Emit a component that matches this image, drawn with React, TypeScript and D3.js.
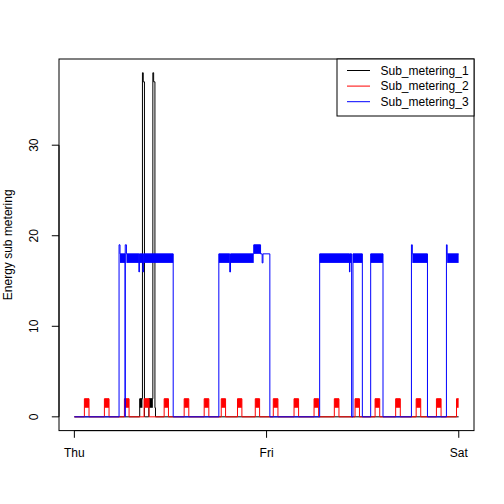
import React from 'react';
import * as d3 from 'd3';

// [start hour, end hour, low, high] -- low != high means the meter flickers between the two
type Seg = [number, number, number, number];

const dayLabels = ['Thu', 'Fri', 'Sat'];
const dayHours = [0, 24, 48];
const yTicks = [0, 10, 20, 30];
const seriesNames = ['Sub_metering_1', 'Sub_metering_2', 'Sub_metering_3'];
const seriesColors = ['black', 'red', 'blue'];
const lastHour = 47.983;

const sub1: Seg[] = [
  [0, 8.16, 0, 0],
  [8.16, 8.5, 1, 2],
  [8.5, 8.6, 38, 38],
  [8.6, 8.75, 37, 37],
  [8.75, 9.29, 0, 0],
  [9.29, 9.8, 1, 2],
  [9.8, 9.9, 38, 38],
  [9.9, 10.06, 37, 37],
  [10.06, 10.13, 1, 1],
  [10.13, lastHour, 0, 0],
];

// fridge-like cycles of Sub_metering_2 (on between 1 and 2)
const sub2On: [number, number][] = [
  [1.25, 1.83], [3.75, 4.33], [6.25, 6.83], [8.71, 9.33], [11.21, 11.75],
  [13.71, 14.29], [16.21, 16.79], [18.34, 18.88], [20.37, 20.92], [22.59, 23.13],
  [24.84, 25.42], [27.43, 28.0], [29.93, 30.5], [32.46, 33.04], [35.05, 35.6],
  [37.55, 38.13], [40.12, 40.7], [42.68, 43.25], [45.21, 45.79], [47.72, lastHour],
];

const sub3: Seg[] = [
  [0, 5.58, 0, 0],
  [5.58, 5.7, 19, 19],
  [5.7, 6.33, 17, 18],
  [6.33, 6.35, 0, 0],
  [6.35, 6.5, 19, 19],
  [6.5, 8.06, 17, 18],
  [8.06, 8.12, 16, 16],
  [8.12, 8.56, 17, 18],
  [8.56, 8.62, 16, 16],
  [8.62, 12.34, 17, 18],
  [12.34, 18.04, 0, 0],
  [18.04, 19.4, 17, 18],
  [19.4, 19.5, 16, 16],
  [19.5, 22.4, 17, 18],
  [22.4, 23.25, 18, 19],
  [23.25, 23.45, 18, 18],
  [23.45, 23.55, 17, 17],
  [23.55, 24.41, 18, 18],
  [24.41, 30.63, 0, 0],
  [30.63, 34.35, 17, 18],
  [34.35, 34.4, 16, 16],
  [34.4, 34.62, 17, 18],
  [34.62, 34.79, 0, 0],
  [34.79, 35.96, 17, 18],
  [35.96, 37.0, 0, 0],
  [37.0, 38.54, 17, 18],
  [38.54, 42.09, 0, 0],
  [42.09, 42.2, 19, 19],
  [42.2, 44.09, 17, 18],
  [44.09, 46.46, 0, 0],
  [46.46, 46.55, 19, 19],
  [46.55, lastHour, 17, 18],
];

const W = 504;
const H = 504;
const left = 59;
const right = 474;
const top = 59;
const bottom = 430.6;

const App = () => {
  const sub2: Seg[] = [];
  let t = 0;
  sub2On.forEach(([s, e]) => {
    if (s > t) sub2.push([t, s, 0, 0]);
    sub2.push([s, e, 1, 2]);
    t = e;
  });
  if (t < lastHour) sub2.push([t, lastHour, 0, 0]);

  const x = d3.scaleLinear()
    .domain([-0.04 * lastHour, lastHour * 1.04])
    .range([left, right]);
  const y = d3.scaleLinear()
    .domain([-0.04 * 38, 38 * 1.04])
    .range([bottom, top]);

  const segPath = (segs: Seg[]) => segs
    .map((s, i) => `${i ? 'L' : 'M'}${x(s[0])},${y(s[3])}L${x(s[1])},${y(s[3])}`)
    .join('');

  const allSeries = [sub1, sub2, sub3];
  const font = '"Liberation Sans", Arial, sans-serif';

  return (
    <svg width={W} height={H} style={{ position: 'absolute', left: 0, top: 0, background: 'white' }} fontFamily={font} fontSize={12}>
      <rect x={0} y={0} width={W} height={H} fill="white" />
      {allSeries.map((segs, i) => (
        <g key={seriesNames[i]}>
          <path d={segPath(segs)} fill="none" stroke={seriesColors[i]} strokeWidth={1} />
          {segs.filter((s) => s[2] !== s[3]).map((s, j) => (
            <rect key={j} x={x(s[0])} width={x(s[1]) - x(s[0])} y={y(s[3])} height={y(s[2]) - y(s[3])} fill={seriesColors[i]} />
          ))}
        </g>
      ))}

      {/* box */}
      <rect x={left} y={top} width={right - left} height={bottom - top} fill="none" stroke="black" strokeWidth={1} />

      {/* y axis */}
      <line x1={left} x2={left} y1={y(0)} y2={y(30)} stroke="black" />
      {yTicks.map((v) => (
        <g key={v}>
          <line x1={left - 7.2} x2={left} y1={y(v)} y2={y(v)} stroke="black" />
          <text transform={`translate(37.5,${y(v)}) rotate(-90)`} textAnchor="middle">{v}</text>
        </g>
      ))}
      <text transform={`translate(11.5,${(top + bottom) / 2}) rotate(-90)`} textAnchor="middle">Energy sub metering</text>

      {/* x axis */}
      <line x1={x(0)} x2={x(48)} y1={bottom} y2={bottom} stroke="black" />
      {dayHours.map((h, i) => (
        <g key={h}>
          <line x1={x(h)} x2={x(h)} y1={bottom} y2={bottom + 7.2} stroke="black" />
          <text x={x(h)} y={457} textAnchor="middle">{dayLabels[i]}</text>
        </g>
      ))}

      {/* legend */}
      <rect x={337} y={top} width={right - 337} height={57} fill="white" stroke="black" />
      {seriesNames.map((name, i) => (
        <g key={name}>
          <line x1={347} x2={370} y1={70.5 + i * 15.6} y2={70.5 + i * 15.6} stroke={seriesColors[i]} />
          <text x={380.5} y={74.8 + i * 15.6}>{name}</text>
        </g>
      ))}
    </svg>
  );
};

export default App;
